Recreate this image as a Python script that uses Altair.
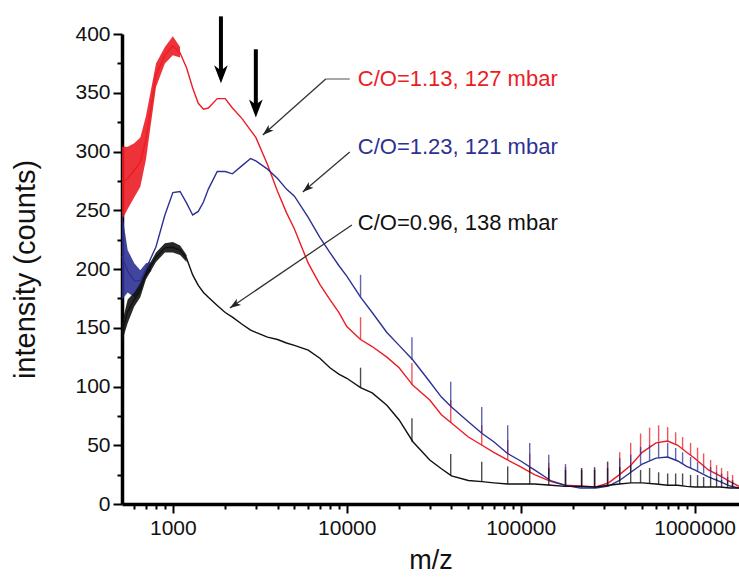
import altair as alt
import pandas as pd

# ---------------- data ----------------
mz_grid = [510, 550, 600, 650, 700, 800, 900, 1000, 1100, 1200, 1300, 1400, 1500, 1600,
           1800, 2000, 2200, 2500, 2800, 3000, 3500, 4000, 4500, 5000, 6000, 7000, 8000,
           9000, 10000, 12000, 14000, 17000, 20000, 24000, 30000, 35000, 40000, 50000,
           60000, 70000, 84000, 100000, 120000, 150000, 180000, 220000, 270000, 320000,
           370000, 430000, 500000, 600000, 700000, 800000, 900000, 1000000, 1200000,
           1400000, 1600000, 1800000]

red_vals = [273, 277, 284, 291, 310, 365, 382, 390, 384, 371, 354, 341, 336, 337,
            345, 345, 337, 328, 318, 312, 289, 266, 248, 234, 205, 187, 174,
            163, 151, 140, 134, 125, 116, 101, 88.5, 76, 69, 57,
            50, 44, 37.5, 31.5, 25, 19, 16, 15.3, 14.5, 18,
            25, 33, 44, 52, 53.6, 50, 44, 39, 29,
            24, 19, 15]

blue_vals = [211, 198, 190, 190, 200, 219, 246, 265, 266, 256, 246, 249, 257, 268,
             283, 283, 281, 288, 294, 292, 285, 277, 268, 262, 244, 227, 214,
             203, 194, 176, 163, 146, 135, 122.5, 104, 91, 82.5, 70,
             60, 53, 43, 36.6, 29, 19.6, 16, 13.6, 13.6, 15.3,
             20, 27, 34, 39, 40, 36.6, 32, 29, 23,
             19, 15.3, 13.6]

black_vals = [146, 164, 174, 182, 195, 210, 218, 218.5, 216, 209, 195, 186, 180, 176,
              169, 163, 159, 153, 148, 146, 142, 140, 137, 135, 131, 124, 116,
              110.6, 107, 99, 94.5, 84, 71.5, 53, 37.5, 30, 24, 20,
              19, 18, 17, 17, 17, 16, 15, 15, 14.5, 16,
              17, 18, 18, 17, 16, 16, 15, 14.5, 14.5,
              14.5, 13.6, 13.6]

# noisy low-m/z envelopes
red_band_mz = [510, 550, 600, 650, 700, 800, 900, 1000, 1100]
red_band_lo = [242, 251, 261, 270, 293, 355, 375, 382, 380]
red_band_hi = [304, 304, 307, 312, 330, 375, 389, 398, 389]

blue_band_mz = [510, 550, 600, 650, 700, 750]
blue_band_lo = [174, 180, 176, 182, 195, 198]
blue_band_hi = [248, 216, 205, 199, 205, 206]

black_band_mz = [510, 550, 600, 650, 700, 800, 900, 1000, 1100, 1200]
black_band_lo = [138, 154, 168, 176, 191, 206, 214, 214, 212, 206]
black_band_hi = [154, 174, 180, 188, 199, 214, 222, 223, 220, 212]

# narrow calibration spikes
spike_mz = [12000, 23700, 39600, 59700, 84200, 112700, 145000, 181000, 224000, 266000,
            316000, 371000, 429000, 489000, 551000, 621000, 700000, 778000, 853000,
            948000, 1040000, 1127000, 1236000, 1337000, 1429000, 1548000, 1653000]
red_spike_base = [140, 101, 69, 50, 37.5, 27, 20, 16, 15, 14.5, 18, 25, 33, 43, 49, 53,
                  53.6, 51, 47, 41, 37, 33, 28, 26, 23.5, 20.5, 18.5]
red_spike_top = [159, 120, 88.5, 67, 54.5, 43, 35, 31.5, 30.6, 30.6, 36, 44, 52, 60, 65,
                 67, 65.5, 61, 57, 52, 48, 43, 37.5, 33, 30.6, 28, 24.7]
blue_spike_base = [176, 122.5, 82.5, 60, 43, 32, 21, 16, 13.6, 13.6, 15, 20, 27, 33, 37,
                   39.5, 40, 37.5, 34, 30.5, 28, 26, 22, 20.5, 19, 17, 15]
blue_spike_top = [195, 142, 104, 82.5, 67, 52, 42, 34, 30.6, 31.5, 36, 39, 42, 48.5, 50,
                  52, 52, 47.7, 44, 40, 36, 33, 31.5, 27, 26, 23, 20.4]
black_spike_base = [99, 53, 24, 19, 17, 17, 16, 15, 15, 14.5, 16, 17, 18, 18, 17.5, 17,
                    16, 16, 15.5, 15, 14.5, 14.5, 14.5, 14.5, 14.5, 14, 14]
black_spike_top = [116, 73, 42.5, 36, 32, 31.5, 30.6, 29, 29, 29, 30.6, 31.5, 33, 29,
                   30.6, 27, 26, 26, 26, 24.7, 24.7, 23, 23, 22, 20.4, 20.4, 18.7]

series_labels = ["C/O=1.13, 127 mbar", "C/O=1.23, 121 mbar", "C/O=0.96, 138 mbar"]

x_major = [1000, 10000, 100000, 1000000]
x_ticks = [600, 700, 800, 900, 1000, 2000, 3000, 4000, 5000, 6000, 7000, 8000, 9000,
           10000, 20000, 30000, 40000, 50000, 60000, 70000, 80000, 90000, 100000,
           200000, 300000, 400000, 500000, 600000, 700000, 800000, 900000, 1000000]
y_ticks = [0, 25, 50, 75, 100, 125, 150, 175, 200, 225, 250, 275, 300, 325, 350, 375, 400]

# ---------------- styling ----------------
RED = "#ec1c24"
BLUE = "#2e3192"
BLACK = "#111111"
FONT = "Liberation Sans"

major_test = "indexof([1000, 10000, 100000, 1000000], datum.value) >= 0"

xscale = alt.Scale(type="log", domain=[510, 1800000], nice=False)
yscale = alt.Scale(domain=[0, 400], nice=False, zero=False)

xaxis = alt.Axis(
    values=x_ticks, title="m/z", grid=False,
    labelExpr=f"{major_test} ? format(datum.value, 'd') : ''",
    tickSize={"condition": {"test": major_test, "value": 9}, "value": 5},
    tickWidth=2, tickColor="black", domainWidth=3.5, domainColor="black",
    labelFont=FONT, labelFontSize=21, labelColor="#111", labelPadding=4,
    labelFlush=False, labelOverlap=False,
    titleFont=FONT, titleFontSize=27, titleFontWeight="normal", titleColor="#111",
    titlePadding=9,
)
yaxis = alt.Axis(
    values=y_ticks, title="intensity (counts)", grid=False,
    labelExpr="datum.value % 50 === 0 ? datum.label : ''",
    tickSize={"condition": {"test": "datum.value % 50 === 0", "value": 9}, "value": 5},
    tickWidth=2, tickColor="black", domainWidth=3.5, domainColor="black",
    labelFont=FONT, labelFontSize=21, labelColor="#111", labelPadding=3,
    labelFlush=False, labelOverlap=False,
    titleFont=FONT, titleFontSize=29, titleFontWeight="normal", titleColor="#111",
    titlePadding=34,
)


def X(field):
    return alt.X(f"{field}:Q", scale=xscale, axis=xaxis)


def Y(field):
    return alt.Y(f"{field}:Q", scale=yscale, axis=yaxis)


layers = []

# noise envelopes
for mzs, lo, hi, col in [(red_band_mz, red_band_lo, red_band_hi, RED),
                         (blue_band_mz, blue_band_lo, blue_band_hi, BLUE),
                         (black_band_mz, black_band_lo, black_band_hi, BLACK)]:
    df = pd.DataFrame({"mz": mzs, "lo": lo, "hi": hi})
    layers.append(
        alt.Chart(df).mark_area(color=col, opacity=0.9, interpolate="linear")
        .encode(x=X("mz"), y=Y("lo"), y2="hi")
    )

# spikes + curves
for vals, sb, st, col in [(red_vals, red_spike_base, red_spike_top, RED),
                          (blue_vals, blue_spike_base, blue_spike_top, BLUE),
                          (black_vals, black_spike_base, black_spike_top, BLACK)]:
    sdf = pd.DataFrame({"mz": spike_mz, "base": sb, "top": st})
    layers.append(
        alt.Chart(sdf).mark_rule(color=col, strokeWidth=1.4, opacity=0.75)
        .encode(x=X("mz"), y=Y("base"), y2="top")
    )
    ldf = pd.DataFrame({"mz": mz_grid, "val": vals})
    layers.append(
        alt.Chart(ldf).mark_line(color=col, strokeWidth=1.4)
        .encode(x=X("mz"), y=Y("val"))
    )

# ---------------- annotations (positions in data units) ----------------
big_arrows = pd.DataFrame({
    "mz": [1890, 3000],
    "top": [415, 387],
    "shaft_end": [368, 339],
    "tip": [358, 329],
})
layers.append(
    alt.Chart(big_arrows).mark_rule(color="black", strokeWidth=4)
    .encode(x=X("mz"), y=Y("top"), y2="shaft_end")
)
layers.append(
    alt.Chart(big_arrows).mark_point(
        shape="M0,0 L-0.38,-1 L0,-0.72 L0.38,-1 Z", size=1296,
        filled=True, color="black", opacity=1, strokeWidth=0)
    .encode(x=X("mz"), y=Y("tip"))
)

ann_lines = pd.DataFrame({
    "mz": [10400, 7570, 10400, 10700],
    "val": [361.7, 361.7, 299.6, 237.4],
    "mz2": [7570, 3290, 5585, 2127],
    "val2": [361.7, 314, 265.5, 166.8],
    "c": ["#777777", "#333333", "#333333", "#333333"],
})
layers.append(
    alt.Chart(ann_lines).mark_rule(strokeWidth=1.3)
    .encode(x=X("mz"), y=Y("val"), x2="mz2", y2="val2",
            color=alt.Color("c:N", scale=None))
)
ann_heads = pd.DataFrame({
    "mz": [3290, 5585, 2127],
    "val": [314, 265.5, 166.8],
    "ang": [48.4, 49.6, 55.8],
})
layers.append(
    alt.Chart(ann_heads).mark_point(
        shape="M0,0 L-0.34,-1 L0,-0.75 L0.34,-1 Z", size=484,
        filled=True, color="#222222", opacity=1, strokeWidth=0)
    .encode(x=X("mz"), y=Y("val"), angle=alt.Angle("ang:Q", scale=None))
)

texts = pd.DataFrame({
    "mz": [11570, 11570, 11570],
    "val": [361.7, 303.8, 239.1],
    "label": series_labels,
    "c": [RED, BLUE, BLACK],
})
layers.append(
    alt.Chart(texts).mark_text(align="left", baseline="middle", font=FONT, fontSize=22)
    .encode(x=X("mz"), y=Y("val"), text="label:N", color=alt.Color("c:N", scale=None))
)

chart = (
    alt.layer(*layers)
    .properties(
        width=617, height=470,
        autosize=alt.AutoSizeParams(type="none"),
        padding={"left": 122, "top": 34, "right": 0, "bottom": 74},
        background="white",
    )
    .configure_view(stroke=None)
)

chart.save("out.html", embed_options={"renderer": "svg", "actions": False})
